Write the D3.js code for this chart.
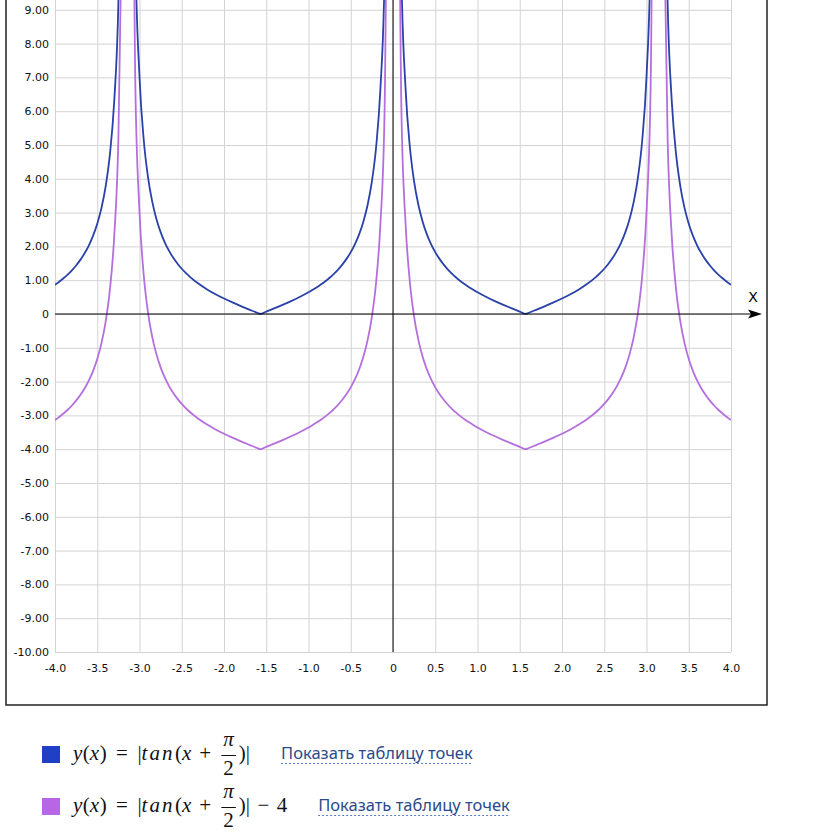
<!DOCTYPE html>
<html>
<head>
<meta charset="utf-8">
<script src="https://cdn.jsdelivr.net/npm/d3@7"></script>
<style>
    body { margin: 0; background: #fff; }
    svg { display: block; }
</style>
</head>
<body>
<svg id="chart" width="831" height="832"></svg>
<script>
// x samples (denser where the curves bend)
const xValues = [
    -4.0, -3.95, -3.9, -3.85, -3.8, -3.75, -3.7, -3.65, -3.6, -3.55, -3.5,
    -3.45, -3.4, -3.35, -3.3, -3.25, -3.2, -3.1, -3.05, -3.0, -2.95, -2.9,
    -2.85, -2.8, -2.75, -2.7, -2.65, -2.6, -2.55, -2.5, -2.45, -2.4, -2.3,
    -2.2, -2.1, -2.0, -1.9, -1.8, -1.7, -1.6, -1.57, -1.5, -1.4, -1.3,
    -1.2, -1.1, -1.0, -0.95, -0.9, -0.85, -0.8, -0.75, -0.7, -0.65, -0.6,
    -0.55, -0.5, -0.45, -0.4, -0.35, -0.3, -0.25, -0.2, -0.15, -0.1, -0.05,
    0.05, 0.1, 0.15, 0.2, 0.25, 0.3, 0.35, 0.4, 0.45, 0.5, 0.55,
    0.6, 0.65, 0.7, 0.75, 0.8, 0.85, 0.9, 0.95, 1.0, 1.1, 1.2,
    1.3, 1.4, 1.5, 1.57, 1.6, 1.7, 1.8, 1.9, 2.0, 2.1, 2.2,
    2.3, 2.4, 2.45, 2.5, 2.55, 2.6, 2.65, 2.7, 2.75, 2.8, 2.85,
    2.9, 2.95, 3.0, 3.05, 3.1, 3.2, 3.25, 3.3, 3.35, 3.4, 3.45,
    3.5, 3.55, 3.6, 3.65, 3.7, 3.75, 3.8, 3.85, 3.9, 3.95, 4.0
];

// y(x) = |tan(x + pi/2)|
const absTanValues = [
    0.864, 0.955, 1.056, 1.167, 1.293, 1.436, 1.601, 1.795, 2.026, 2.311, 2.670,
    3.139, 3.783, 4.728, 6.260, 9.19, 17.10, 24.03, 10.88, 7.015, 5.155, 4.058,
    3.331, 2.813, 2.422, 2.115, 1.868, 1.662, 1.488, 1.339, 1.208, 1.092, 0.893,
    0.728, 0.585, 0.458, 0.342, 0.233, 0.130, 0.029, 0.001, 0.071, 0.173, 0.278,
    0.389, 0.509, 0.642, 0.715, 0.794, 0.879, 0.971, 1.073, 1.187, 1.315, 1.462,
    1.631, 1.830, 2.070, 2.365, 2.740, 3.233, 3.916, 4.933, 6.617, 9.967, 19.98,
    19.98, 9.967, 6.617, 4.933, 3.916, 3.233, 2.740, 2.365, 2.070, 1.830, 1.631,
    1.462, 1.315, 1.187, 1.073, 0.971, 0.879, 0.794, 0.715, 0.642, 0.509, 0.389,
    0.278, 0.173, 0.071, 0.001, 0.029, 0.130, 0.233, 0.342, 0.458, 0.585, 0.728,
    0.893, 1.092, 1.208, 1.339, 1.488, 1.662, 1.868, 2.115, 2.422, 2.813, 3.331,
    4.058, 5.155, 7.015, 10.88, 24.03, 17.10, 9.19, 6.260, 4.728, 3.783, 3.139,
    2.670, 2.311, 2.026, 1.795, 1.601, 1.436, 1.293, 1.167, 1.056, 0.955, 0.864
];

// y(x) = |tan(x + pi/2)| - 4
const absTanMinus4Values = [
    -3.136, -3.045, -2.944, -2.833, -2.707, -2.564, -2.399, -2.205, -1.974, -1.689, -1.330,
    -0.861, -0.217, 0.728, 2.260, 5.19, 13.10, 20.03, 6.88, 3.015, 1.155, 0.058,
    -0.669, -1.187, -1.578, -1.885, -2.132, -2.338, -2.512, -2.661, -2.792, -2.908, -3.107,
    -3.272, -3.415, -3.542, -3.658, -3.767, -3.870, -3.971, -3.999, -3.929, -3.827, -3.722,
    -3.611, -3.491, -3.358, -3.285, -3.206, -3.121, -3.029, -2.927, -2.813, -2.685, -2.538,
    -2.369, -2.170, -1.930, -1.635, -1.260, -0.767, -0.084, 0.933, 2.617, 5.967, 15.98,
    15.98, 5.967, 2.617, 0.933, -0.084, -0.767, -1.260, -1.635, -1.930, -2.170, -2.369,
    -2.538, -2.685, -2.813, -2.927, -3.029, -3.121, -3.206, -3.285, -3.358, -3.491, -3.611,
    -3.722, -3.827, -3.929, -3.999, -3.971, -3.870, -3.767, -3.658, -3.542, -3.415, -3.272,
    -3.107, -2.908, -2.792, -2.661, -2.512, -2.338, -2.132, -1.885, -1.578, -1.187, -0.669,
    0.058, 1.155, 3.015, 6.88, 20.03, 13.10, 5.19, 2.260, 0.728, -0.217, -0.861,
    -1.330, -1.689, -1.974, -2.205, -2.399, -2.564, -2.707, -2.833, -2.944, -3.045, -3.136
];

const xTicks = [-4, -3.5, -3, -2.5, -2, -1.5, -1, -0.5, 0, 0.5, 1, 1.5, 2, 2.5, 3, 3.5, 4];
const yTicks = [-10, -9, -8, -7, -6, -5, -4, -3, -2, -1, 0, 1, 2, 3, 4, 5, 6, 7, 8, 9, 10];

const seriesNames = ["absTan", "absTanMinus4"];
const seriesColors = ["#2a41a8", "#b46fdd"];
const legendColors = ["#1f3fc4", "#b966e6"];
const linkText = "Показать таблицу точек";

const svg = d3.select("#chart");

const x = d3.scaleLinear().domain([-4, 4]).range([55, 731]);
const y = d3.scaleLinear().domain([-10, 10]).range([652, -24]);
const plotH = y(-10) - y(10);
const plotW = x(4) - x(-4);

// outer frame, its top edge sits above the visible area
svg.append("rect")
    .attr("x", 6)
    .attr("y", -80)
    .attr("width", 761)
    .attr("height", 785)
    .attr("fill", "none")
    .attr("stroke", "#222")
    .attr("stroke-width", 1.5);

// grid
svg.append("g")
    .attr("transform", `translate(0,${y(-10)})`)
    .call(d3.axisBottom(x).tickValues(xTicks).tickSize(-plotH).tickFormat(""))
    .call(g => g.select(".domain").remove())
    .call(g => g.selectAll("line").attr("stroke", "#d3d3d3"));

svg.append("g")
    .attr("transform", `translate(${x(-4)},0)`)
    .call(d3.axisLeft(y).tickValues(yTicks).tickSize(-plotW).tickFormat(""))
    .call(g => g.select(".domain").remove())
    .call(g => g.selectAll("line").attr("stroke", "#d3d3d3"));

// tick labels
svg.append("g")
    .attr("transform", `translate(0,${y(-10)})`)
    .call(d3.axisBottom(x).tickValues(xTicks).tickSize(0).tickPadding(12)
        .tickFormat(d => d === 0 ? "0" : d.toFixed(1)))
    .call(g => g.select(".domain").remove())
    .call(g => g.selectAll("text")
        .attr("font-family", "DejaVu Sans, Verdana, sans-serif")
        .attr("font-size", 11)
        .attr("fill", "#111"));

// the 10.00 label lies above the visible part of the page
svg.append("g")
    .attr("transform", `translate(${x(-4)},0)`)
    .call(d3.axisLeft(y).tickValues(yTicks.filter(d => y(d) > 0)).tickSize(0).tickPadding(6)
        .tickFormat(d => d === 0 ? "0" : d.toFixed(2)))
    .call(g => g.select(".domain").remove())
    .call(g => g.selectAll("text")
        .attr("font-family", "DejaVu Sans, Verdana, sans-serif")
        .attr("font-size", 11)
        .attr("fill", "#111"));

// curves
svg.append("defs")
    .append("clipPath")
    .attr("id", "plot-clip")
    .append("rect")
    .attr("x", x(-4))
    .attr("y", y(10))
    .attr("width", plotW)
    .attr("height", plotH);

const series = [absTanValues, absTanMinus4Values];
const line = d3.line()
    .x(d => x(d[0]))
    .y(d => y(d[1]))
    .curve(d3.curveMonotoneX);

svg.append("g")
    .attr("clip-path", "url(#plot-clip)")
    .selectAll("path")
    .data(series)
    .join("path")
    .attr("class", (d, i) => seriesNames[i])
    .attr("d", vals => line(xValues.map((xv, i) => [xv, vals[i]])))
    .attr("fill", "none")
    .attr("stroke", (d, i) => seriesColors[i])
    .attr("stroke-width", 1.8)
    .attr("stroke-linejoin", "round");

// axes, x with an arrow
svg.append("line")
    .attr("x1", x(0)).attr("x2", x(0))
    .attr("y1", y(-10)).attr("y2", -60)
    .attr("stroke", "#000");

svg.append("line")
    .attr("x1", x(-4)).attr("x2", 752)
    .attr("y1", y(0)).attr("y2", y(0))
    .attr("stroke", "#000");

svg.append("path")
    .attr("d", `M 762,${y(0)} L 748,${y(0) - 4.5} L 751,${y(0)} L 748,${y(0) + 4.5} Z`)
    .attr("fill", "#000");

svg.append("text")
    .attr("x", 753)
    .attr("y", 302)
    .attr("text-anchor", "middle")
    .attr("font-family", "DejaVu Sans, Verdana, sans-serif")
    .attr("font-size", 14)
    .text("X");

// legend with the formulas
const mathFont = "Liberation Serif, Times New Roman, serif";
const mathSize = 21;

const formulaBase = [
    {t: "y", it: true}, {t: "("}, {t: "x", it: true}, {t: ")"},
    {gap: 0.45}, {t: "="}, {gap: 0.45},
    {t: "|"}, {t: "tan", it: true, ls: 2}, {t: "("}, {t: "x", it: true},
    {gap: 0.35}, {t: "+"}, {gap: 0.35},
    {frac: ["π", "2"]}, {t: ")"}, {t: "|"}
];
const formulas = [
    formulaBase,
    formulaBase.concat([{gap: 0.35}, {t: "−"}, {gap: 0.35}, {t: "4"}])
];

function drawFormula(g, tokens) {
    let cx = 0;
    tokens.forEach(tok => {
        if (tok.gap) {
            cx += tok.gap * mathSize;
            return;
        }
        if (tok.frac) {
            const num = g.append("text")
                .attr("font-family", mathFont)
                .attr("font-size", mathSize)
                .attr("font-style", "italic")
                .attr("text-anchor", "middle")
                .attr("y", -14)
                .attr("fill", "#111")
                .text(tok.frac[0]);
            const den = g.append("text")
                .attr("font-family", mathFont)
                .attr("font-size", mathSize)
                .attr("text-anchor", "middle")
                .attr("y", 15)
                .attr("fill", "#111")
                .text(tok.frac[1]);
            const w = Math.max(num.node().getComputedTextLength(), den.node().getComputedTextLength()) + 4;
            cx += 3;
            num.attr("x", cx + w / 2);
            den.attr("x", cx + w / 2);
            g.append("line")
                .attr("x1", cx).attr("x2", cx + w)
                .attr("y1", -4.5).attr("y2", -4.5)
                .attr("stroke", "#111")
                .attr("stroke-width", 1);
            cx += w + 3;
            return;
        }
        const t = g.append("text")
            .attr("x", cx)
            .attr("font-family", mathFont)
            .attr("font-size", mathSize)
            .attr("font-style", tok.it ? "italic" : "normal")
            .attr("letter-spacing", tok.ls || 0)
            .attr("fill", "#111")
            .text(tok.t);
        cx += t.node().getComputedTextLength() + (tok.it ? 0.5 : 0);
    });
    return cx;
}

const legend = svg.append("g");
const rowBaselines = [760, 812];

formulas.forEach((tokens, i) => {
    const row = legend.append("g").attr("transform", `translate(0,${rowBaselines[i]})`);
    row.append("rect")
        .attr("x", 42)
        .attr("y", -14)
        .attr("width", 18)
        .attr("height", 17)
        .attr("fill", legendColors[i]);
    const f = row.append("g").attr("transform", "translate(73,0)");
    const w = drawFormula(f, tokens);
    const lx = 73 + w + 31;
    const link = row.append("text")
        .attr("x", lx)
        .attr("y", -1)
        .attr("font-family", "Noto Sans, Open Sans, sans-serif")
        .attr("font-size", 16.5)
        .attr("fill", "#2c4a8c")
        .text(linkText);
    const lw = link.node().getComputedTextLength();
    row.append("line")
        .attr("x1", lx).attr("x2", lx + lw)
        .attr("y1", 3.5).attr("y2", 3.5)
        .attr("stroke", "#5a7cc0")
        .attr("stroke-width", 1)
        .attr("stroke-dasharray", "2,2");
});
</script>
</body>
</html>
